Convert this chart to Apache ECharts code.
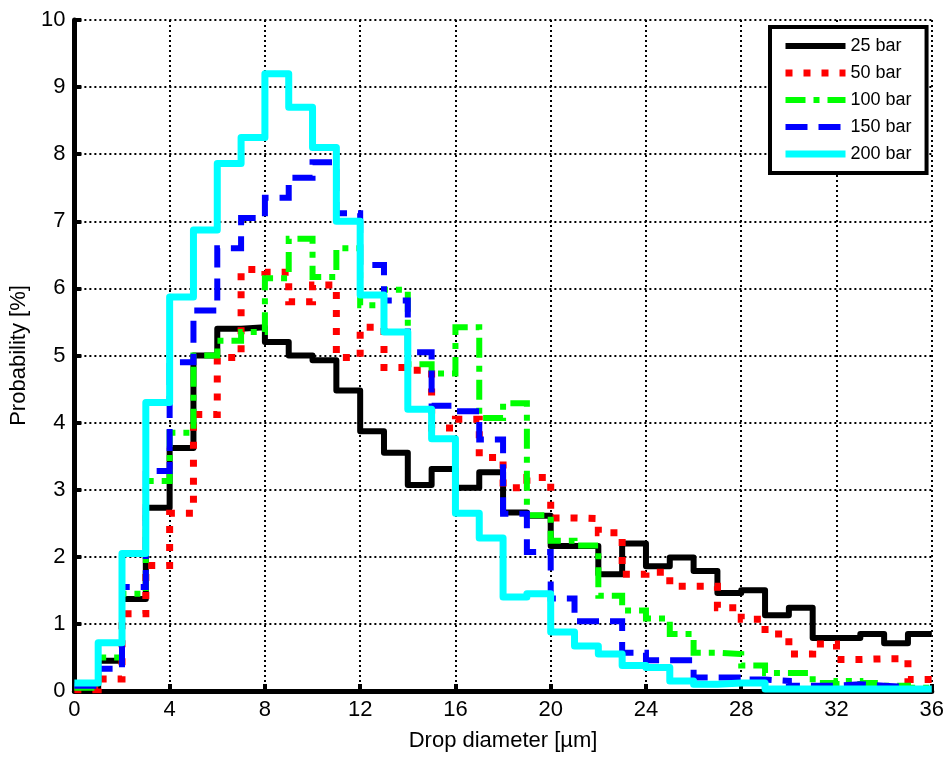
<!DOCTYPE html>
<html>
<head>
<meta charset="utf-8">
<title>Drop size distribution</title>
<script src="https://cdn.jsdelivr.net/npm/echarts@6/dist/echarts.min.js"></script>
<style>
  html, body { margin: 0; padding: 0; background: #ffffff; }
  #chart { width: 947px; height: 758px; }
</style>
</head>
<body>
<div id="chart"></div>
<script>
// Bin edges of the drop diameter histogram (µm), 1 µm wide bins
const binEdges = [0, 1, 2, 3, 4, 5, 6, 7, 8, 9, 10, 11, 12, 13, 14, 15, 16, 17, 18,
                  19, 20, 21, 22, 23, 24, 25, 26, 27, 28, 29, 30, 31, 32, 33, 34, 35, 36];

// Probability [%] of each bin, one array per injection pressure
const p25bar = [0.05, 0.45, 1.37, 2.73, 3.62, 5.0, 5.4, 5.42, 5.2, 5.0, 4.93, 4.48,
                3.87, 3.55, 3.07, 3.31, 3.03, 3.26, 2.66, 2.61, 2.16, 2.16, 1.74, 2.2,
                1.86, 1.99, 1.79, 1.46, 1.5, 1.13, 1.24, 0.79, 0.79, 0.85, 0.71, 0.85];
const p50bar = [0.02, 0.18, 1.15, 1.87, 2.65, 4.12, 4.97, 6.28, 6.24, 5.8, 6.05, 4.97,
                5.42, 4.82, 4.78, 3.92, 4.05, 3.48, 3.03, 3.18, 2.58, 2.57, 2.36, 1.74,
                1.77, 1.56, 1.56, 1.24, 1.07, 0.85, 0.55, 0.7, 0.47, 0.48, 0.48, 0.17];
const p100bar = [0.05, 0.5, 1.45, 3.13, 3.85, 5.0, 5.22, 5.35, 6.15, 6.74, 6.17, 6.6,
                 5.75, 5.98, 4.87, 4.73, 5.42, 4.07, 4.29, 2.62, 2.24, 2.17, 1.42, 1.2,
                 1.08, 0.85, 0.57, 0.55, 0.38, 0.27, 0.27, 0.12, 0.15, 0.12, 0.08, 0.05];
const p150bar = [0.08, 0.33, 1.55, 3.28, 4.9, 5.67, 6.6, 7.05, 7.35, 7.65, 7.88, 7.12,
                 6.35, 5.82, 5.05, 4.25, 4.17, 3.75, 2.64, 2.07, 1.38, 1.04, 1.04, 0.57,
                 0.46, 0.46, 0.2, 0.2, 0.17, 0.15, 0.08, 0.08, 0.1, 0.08, 0.06, 0.03];
const p200bar = [0.12, 0.72, 2.05, 4.3, 5.87, 6.87, 7.86, 8.25, 9.2, 8.7, 8.1, 7.0,
                 5.9, 5.35, 4.2, 3.76, 2.65, 2.28, 1.4, 1.45, 0.88, 0.67, 0.55, 0.38,
                 0.35, 0.15, 0.1, 0.12, 0.12, 0.03, 0.03, 0.03, 0.03, 0.03, 0.03, 0.03];

const seriesNames = ['25 bar', '50 bar', '100 bar', '150 bar', '200 bar'];
const xTicks = [0, 4, 8, 12, 16, 20, 24, 28, 32, 36];
const yTicks = [0, 1, 2, 3, 4, 5, 6, 7, 8, 9, 10];

const seriesValues = [p25bar, p50bar, p100bar, p150bar, p200bar];

// Line look of each pressure curve
const lineLooks = [
  { color: '#000000', width: 6, type: 'solid', join: 'round' },
  { color: '#ff0000', width: 7, type: [7, 11], join: 'miter' },
  { color: '#00ff00', width: 6, type: [20, 8, 6, 8], join: 'miter' },
  { color: '#0000ff', width: 6, type: [22, 11], join: 'miter' },
  { color: '#00ffff', width: 7, type: 'solid', join: 'round' }
];

// Each bin is drawn as a stair: value held from its left edge to its right edge
function stairData(values) {
  return binEdges.map(function (edge, i) {
    return [edge, values[Math.min(i, values.length - 1)]];
  });
}

const textFont = "'Liberation Sans', Arial, sans-serif";

const chart = echarts.init(document.getElementById('chart'), null, { renderer: 'canvas' });

chart.setOption({
  backgroundColor: '#ffffff',
  animation: false,
  grid: { left: 72, right: 15, top: 20, bottom: 67, containLabel: false },
  legend: {
    data: seriesNames,
    orient: 'vertical',
    left: 770,
    top: 27,
    itemWidth: 60,
    itemHeight: 14,
    itemGap: 9,
    padding: [10, 15, 10, 12],
    borderColor: '#000000',
    borderWidth: 4,
    backgroundColor: '#ffffff',
    itemStyle: { opacity: 0 },
    lineStyle: { width: 'inherit', type: 'inherit' },
    textStyle: { fontFamily: textFont, fontSize: 18, color: '#000000' }
  },
  xAxis: {
    type: 'value',
    min: 0,
    max: 36,
    interval: 4,
    name: 'Drop diameter [µm]',
    nameLocation: 'middle',
    nameGap: 39,
    nameTextStyle: { fontFamily: textFont, fontSize: 22, color: '#000000' },
    axisLine: { show: true, onZero: false, lineStyle: { color: '#000000', width: 5 } },
    axisTick: { show: true, inside: true, length: 7, lineStyle: { color: '#000000', width: 4 } },
    axisLabel: {
      fontFamily: textFont, fontSize: 22, color: '#000000', margin: 8,
      formatter: function (v) { return xTicks.indexOf(v) >= 0 ? String(v) : ''; }
    },
    splitLine: { show: true, lineStyle: { color: '#000000', width: 2, type: [2, 3] } }
  },
  yAxis: {
    type: 'value',
    min: 0,
    max: 10,
    interval: 1,
    name: 'Probability [%]',
    nameLocation: 'middle',
    nameGap: 30,
    nameTextStyle: { fontFamily: textFont, fontSize: 22, color: '#000000' },
    axisLine: { show: true, onZero: false, lineStyle: { color: '#000000', width: 5 } },
    axisTick: { show: true, inside: true, length: 7, lineStyle: { color: '#000000', width: 4 } },
    axisLabel: {
      fontFamily: textFont, fontSize: 22, color: '#000000', margin: 9,
      formatter: function (v) { return yTicks.indexOf(v) >= 0 ? String(v) : ''; }
    },
    splitLine: { show: true, lineStyle: { color: '#000000', width: 2, type: [2, 3] } }
  },
  series: seriesNames.map(function (name, i) {
    const look = lineLooks[i];
    return {
      name: name,
      type: 'line',
      step: 'end',
      data: stairData(seriesValues[i]),
      symbol: 'none',
      showSymbol: false,
      silent: true,
      clip: false,
      lineStyle: { color: look.color, width: look.width, type: look.type, cap: 'butt', join: look.join },
      itemStyle: { color: look.color },
      z: 2 + i
    };
  })
});
</script>
</body>
</html>
